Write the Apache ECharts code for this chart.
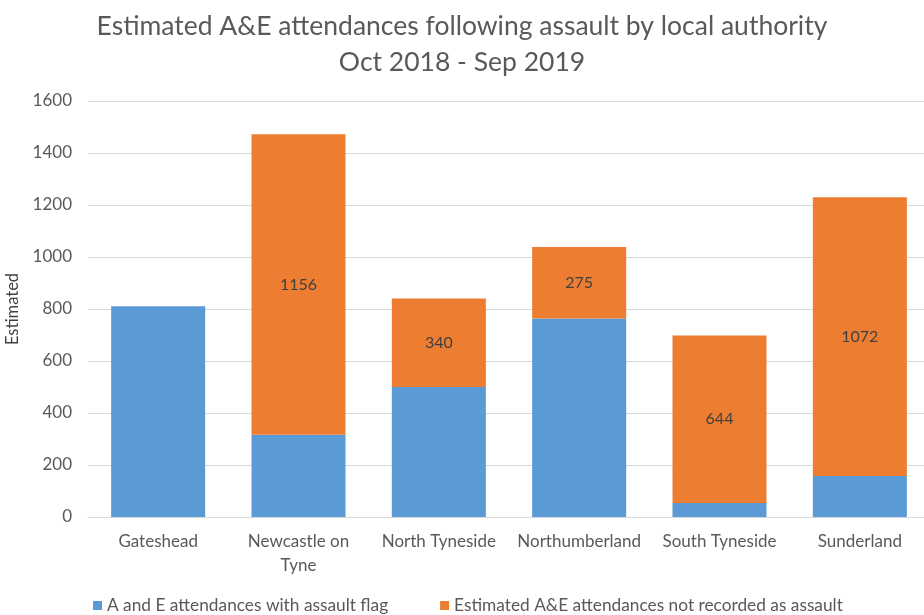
<!DOCTYPE html>
<html>
<head>
<meta charset="utf-8">
<script src="https://cdn.jsdelivr.net/npm/echarts@6/dist/echarts.min.js"></script>
<style>
  html, body { margin: 0; padding: 0; background: #fff; }
  #chart { width: 924px; height: 615px; }
</style>
</head>
<body>
<div id="chart"></div>
<script>
// Local authorities and the two stacked components of A&E attendances
const categories = ['Gateshead', 'Newcastle on\nTyne', 'North Tyneside', 'Northumberland', 'South Tyneside', 'Sunderland'];
const flaggedAssault = [811, 316, 500, 763, 54, 158];
const notRecorded = [0, 1156, 340, 275, 644, 1072];
const seriesNames = ['A and E attendances with assault flag', 'Estimated A&E attendances not recorded as assault'];
const yTicks = { min: 0, max: 1600, interval: 200 };

const FONT = 'Lato, "Open Sans", sans-serif';
const chart = echarts.init(document.getElementById('chart'), null, { renderer: 'canvas' });

chart.setOption({
  backgroundColor: '#ffffff',
  animation: false,
  title: {
    text: 'Estimated A&E attendances following assault by local authority\nOct 2018 - Sep 2019',
    left: 'center',
    top: 3,
    textStyle: { fontFamily: FONT, fontSize: 26.5, fontWeight: 'normal', color: '#595959', lineHeight: 36 }
  },
  legend: {
    top: 592,
    left: 88,
    itemGap: 52,
    itemWidth: 9,
    itemHeight: 9,
    icon: 'rect',
    textStyle: { fontFamily: FONT, fontSize: 17.3, color: '#595959' },
    data: seriesNames
  },
  grid: { left: 88, right: -6, top: 101, bottom: 98, containLabel: false, outerBoundsMode: 'none' },
  xAxis: {
    type: 'category',
    data: categories,
    axisLine: { lineStyle: { color: '#d9d9d9' } },
    axisTick: { show: false },
    axisLabel: { fontFamily: FONT, fontSize: 17, color: '#595959', margin: 13, lineHeight: 24, interval: 0 }
  },
  yAxis: {
    type: 'value',
    min: yTicks.min,
    max: yTicks.max,
    interval: yTicks.interval,
    name: 'Estimated',
    nameLocation: 'middle',
    nameGap: 66,
    nameRotate: 90,
    nameTextStyle: { fontFamily: FONT, fontSize: 16.5, color: '#404040' },
    axisLine: { show: false },
    axisTick: { show: false },
    axisLabel: { fontFamily: FONT, fontSize: 17, color: '#595959', margin: 16, formatter: v => String(v) },
    splitLine: { lineStyle: { color: '#d9d9d9' } }
  },
  series: [
    {
      name: seriesNames[0],
      type: 'bar',
      stack: 'total',
      barWidth: '67%',
      itemStyle: { color: '#5B9BD5' },
      data: flaggedAssault
    },
    {
      name: seriesNames[1],
      type: 'bar',
      stack: 'total',
      itemStyle: { color: '#ED7D31' },
      label: {
        show: true,
        position: 'inside',
        fontFamily: FONT,
        fontSize: 16,
        color: '#404040',
        formatter: p => (p.value ? String(p.value) : '')
      },
      data: notRecorded
    }
  ]
});
</script>
</body>
</html>
